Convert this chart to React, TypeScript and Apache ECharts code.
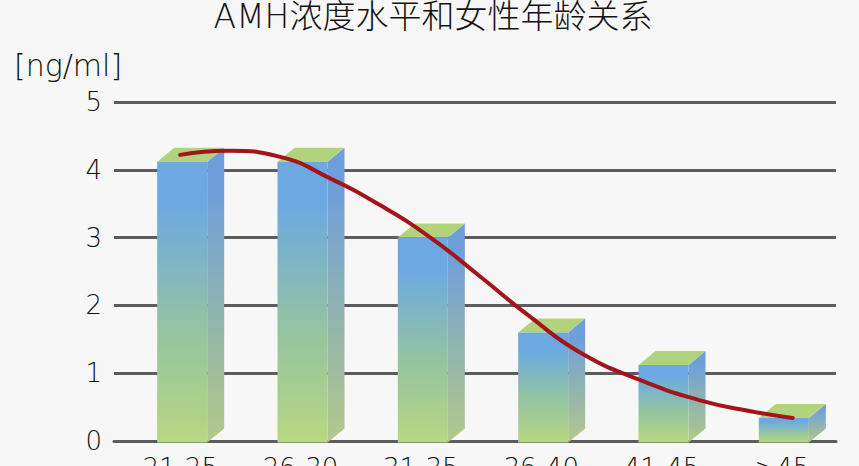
import React, { useEffect, useRef } from "react";
import * as echarts from "echarts";

const titleText = "AMH浓度水平和女性年龄关系";
const unitText = "[ng/ml]";
const ageGroups = ["21-25", "26-30", "31-35", "36-40", "41-45", ">45"];
const amhValues = [4.12, 4.12, 3.0, 1.6, 1.12, 0.34];
const yTicks = { min: 0, max: 5, interval: 1 };
// curve position in category units (0 = left of first band), and its AMH value
const curveX = [0.55, 0.95, 1.38, 1.8, 2.21, 2.63, 3.04, 3.46, 3.87, 4.37, 4.87, 5.29, 5.64];
const curveY = [4.22, 4.28, 4.19, 3.87, 3.48, 3.0, 2.43, 1.83, 1.31, 0.9, 0.6, 0.44, 0.34];

const INK = "#111111";
const GRID = "#5c5c5e";
const FONT = "'DejaVu Sans', 'Noto Sans CJK SC', sans-serif";

export default function App() {
  const ref = useRef<HTMLDivElement>(null);
  useEffect(() => {
    document.body.style.margin = "0";
    document.body.style.background = "#f7f7f8";
    const chart = echarts.init(ref.current!, undefined, { renderer: "svg" });
    chart.setOption({
      animation: false,
      backgroundColor: "#f7f7f8",
      title: {
        text: titleText,
        left: 428,
        top: -5,
        textAlign: "center",
        textStyle: { fontFamily: FONT, fontSize: 33, fontWeight: 200, color: INK },
      },
      grid: { left: 114, right: 23, top: 102, bottom: 25, outerBoundsMode: "none" },
      xAxis: [
        {
          type: "category",
          data: ageGroups,
          axisTick: { show: false },
          axisLine: { lineStyle: { color: GRID, width: 3 } },
          axisLabel: { color: INK, fontFamily: FONT, fontSize: 26, fontWeight: 200, margin: 14, padding: [0, 0, 0, 12] },
        },
        { type: "value", min: 0, max: 6, show: false },
      ],
      yAxis: {
        type: "value",
        min: yTicks.min,
        max: yTicks.max,
        interval: yTicks.interval,
        name: unitText,
        nameLocation: "end",
        nameGap: 22,
        nameTextStyle: { color: INK, fontFamily: FONT, fontSize: 30, fontWeight: 200, align: "left", padding: [0, 0, 0, -100] },
        axisLine: { show: false },
        axisTick: { show: false },
        axisLabel: { color: INK, fontFamily: FONT, fontSize: 26, fontWeight: 200, margin: 12 },
        splitLine: { lineStyle: { color: GRID, width: 3 } },
      },
      series: [
        {
          type: "custom",
          xAxisIndex: 0,
          yAxisIndex: 0,
          data: amhValues.map((v, i) => [i, v]),
          clip: false,
          z: 3,
          renderItem: (_p: any, api: any) => {
            const top = api.coord([api.value(0), api.value(1)]);
            const base = api.coord([api.value(0), 0]);
            const cx = top[0] + 8;
            const hw = 25;
            const dx = 17;
            const dy = 14;
            const l = cx - hw;
            const r = cx + hw;
            const y0 = top[1];
            const y1 = base[1] + 1.5;
            const grad = (a: string, m: string, b: string) =>
              new echarts.graphic.LinearGradient(0, 0, 0, 1, [
                { offset: 0, color: a },
                { offset: 0.15, color: a },
                { offset: 0.6, color: m },
                { offset: 1, color: b },
              ]);
            return {
              type: "group",
              children: [
                {
                  type: "polygon",
                  shape: { points: [[r, y0], [r + dx, y0 - dy], [r + dx, y1 - dy], [r, y1]] },
                  style: { fill: grad("#6f9fdb", "#93b6ab", "#b3c98a") },
                },
                {
                  type: "polygon",
                  shape: { points: [[l, y0], [l + dx, y0 - dy], [r + dx, y0 - dy], [r, y0]] },
                  style: { fill: "#b2d37e" },
                },
                {
                  type: "rect",
                  shape: { x: l, y: y0, width: hw * 2, height: y1 - y0 },
                  style: { fill: grad("#6ca9e2", "#94c4a0", "#b7d781") },
                },
              ],
            };
          },
        },
        {
          type: "line",
          xAxisIndex: 1,
          yAxisIndex: 0,
          data: curveX.map((x, i) => [x, curveY[i]]),
          smooth: 0.5,
          symbol: "none",
          z: 5,
          lineStyle: { color: "#a3141b", width: 4, cap: "round" },
        },
      ],
    });
    return () => chart.dispose();
  }, []);
  return <div ref={ref} style={{ width: 859, height: 466 }} />;
}
